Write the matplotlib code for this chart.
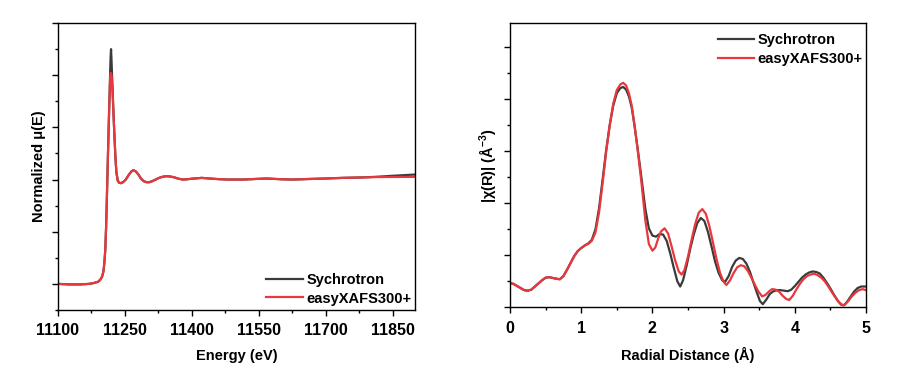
import numpy as np
import matplotlib
matplotlib.use('Agg')
from matplotlib import pyplot as plt
from matplotlib.ticker import MultipleLocator

# XANES, normalized mu(E) vs energy (eV)
energy = [11100, 11125, 11150, 11170, 11180, 11190, 11195, 11199, 11202, 11204,
          11206, 11208, 11210, 11212, 11214, 11216, 11217, 11218, 11219, 11220,
          11221, 11223, 11225, 11227, 11229, 11231, 11234, 11237, 11241, 11246,
          11252, 11258, 11264, 11269, 11274, 11280, 11286, 11292, 11298, 11304,
          11310, 11318, 11326, 11334, 11342, 11350, 11360, 11370, 11380, 11390,
          11400, 11422, 11440, 11460, 11480, 11514, 11540, 11567, 11600, 11626,
          11660, 11700, 11738, 11780, 11813, 11850, 11900]
mu_sync = [0.0, -0.005, -0.005, 0.0, 0.008, 0.02, 0.04, 0.07, 0.12, 0.20,
           0.32, 0.55, 0.88, 1.22, 1.55, 1.85, 2.02, 2.17, 2.25, 2.15,
           2.03, 1.80, 1.58, 1.38, 1.20, 1.07, 0.99, 0.97, 0.965, 0.975,
           1.0, 1.04, 1.075, 1.089, 1.08, 1.05, 1.01, 0.985, 0.975, 0.974,
           0.982, 0.998, 1.015, 1.026, 1.032, 1.03, 1.022, 1.008, 1.0, 1.003,
           1.008, 1.016, 1.01, 1.004, 1.0, 1.0, 1.005, 1.01, 1.003, 1.0,
           1.005, 1.01, 1.016, 1.02, 1.026, 1.036, 1.048]
mu_easy = [0.0, -0.005, -0.005, 0.0, 0.008, 0.02, 0.04, 0.07, 0.12, 0.20,
           0.32, 0.55, 0.88, 1.22, 1.55, 1.85, 1.98, 2.02, 2.02, 2.0,
           1.95, 1.78, 1.58, 1.38, 1.20, 1.07, 0.99, 0.97, 0.965, 0.975,
           1.0, 1.04, 1.075, 1.089, 1.08, 1.05, 1.01, 0.985, 0.975, 0.974,
           0.982, 0.998, 1.015, 1.026, 1.032, 1.03, 1.022, 1.008, 1.0, 1.003,
           1.008, 1.016, 1.01, 1.004, 1.0, 1.0, 1.005, 1.01, 1.003, 1.0,
           1.005, 1.01, 1.016, 1.02, 1.024, 1.025, 1.026]

# EXAFS, |chi(R)| vs radial distance (A)
r_sync = [0.00, 0.05, 0.10, 0.15, 0.20, 0.25, 0.30, 0.35, 0.40, 0.45,
          0.50, 0.55, 0.60, 0.65, 0.70, 0.75, 0.80, 0.85, 0.90, 0.95,
          1.00, 1.05, 1.10, 1.15, 1.20, 1.25, 1.30, 1.35, 1.40, 1.45,
          1.50, 1.55, 1.59, 1.63, 1.67, 1.71, 1.75, 1.80, 1.85, 1.90,
          1.95, 2.00, 2.05, 2.10, 2.15, 2.20, 2.25, 2.30, 2.35, 2.39,
          2.43, 2.48, 2.53, 2.58, 2.63, 2.68, 2.73, 2.78, 2.83, 2.88,
          2.93, 2.98, 3.02, 3.07, 3.12, 3.17, 3.22, 3.27, 3.32, 3.37,
          3.42, 3.47, 3.51, 3.55, 3.60, 3.65, 3.70, 3.75, 3.80, 3.85,
          3.90, 3.95, 4.00, 4.05, 4.10, 4.15, 4.20, 4.25, 4.30, 4.35,
          4.40, 4.45, 4.50, 4.55, 4.60, 4.65, 4.69, 4.73, 4.78, 4.83,
          4.88, 4.93, 5.00]
chi_sync = [0.47, 0.45, 0.41, 0.37, 0.33, 0.32, 0.34, 0.40, 0.46, 0.52,
            0.57, 0.58, 0.565, 0.55, 0.54, 0.60, 0.72, 0.85, 0.98, 1.08,
            1.14, 1.19, 1.23, 1.30, 1.50, 1.90, 2.45, 3.02, 3.50, 3.88,
            4.12, 4.22, 4.24, 4.19, 4.06, 3.84, 3.48, 2.98, 2.45, 1.90,
            1.52, 1.38, 1.36, 1.41, 1.40, 1.28, 1.04, 0.76, 0.50, 0.40,
            0.52, 0.80, 1.12, 1.40, 1.62, 1.72, 1.66, 1.45, 1.17, 0.88,
            0.66, 0.52, 0.49, 0.60, 0.78, 0.90, 0.95, 0.93, 0.84, 0.68,
            0.47, 0.27, 0.12, 0.06, 0.15, 0.26, 0.31, 0.33, 0.33, 0.32,
            0.31, 0.34, 0.41, 0.49, 0.57, 0.63, 0.67, 0.69, 0.68, 0.65,
            0.57, 0.47, 0.36, 0.24, 0.13, 0.05, 0.04, 0.10, 0.20, 0.30,
            0.37, 0.40, 0.40]

r_easy = [0.00, 0.05, 0.10, 0.15, 0.20, 0.25, 0.30, 0.35, 0.40, 0.45,
          0.50, 0.55, 0.60, 0.65, 0.70, 0.75, 0.80, 0.85, 0.90, 0.95,
          1.00, 1.05, 1.10, 1.15, 1.20, 1.25, 1.30, 1.35, 1.40, 1.45,
          1.50, 1.55, 1.59, 1.63, 1.67, 1.71, 1.75, 1.80, 1.85, 1.90,
          1.95, 2.00, 2.04, 2.08, 2.12, 2.17, 2.22, 2.27, 2.32, 2.37,
          2.41, 2.45, 2.50, 2.55, 2.60, 2.65, 2.70, 2.75, 2.80, 2.85,
          2.90, 2.95, 3.00, 3.04, 3.09, 3.14, 3.19, 3.24, 3.29, 3.34,
          3.39, 3.44, 3.49, 3.54, 3.59, 3.64, 3.68, 3.73, 3.78, 3.83,
          3.88, 3.92, 3.97, 4.02, 4.07, 4.12, 4.17, 4.22, 4.27, 4.32,
          4.37, 4.42, 4.47, 4.52, 4.57, 4.62, 4.67, 4.70, 4.75, 4.80,
          4.85, 4.90, 4.95, 5.00]
chi_easy = [0.47, 0.45, 0.41, 0.37, 0.33, 0.32, 0.34, 0.40, 0.46, 0.52,
            0.57, 0.58, 0.565, 0.55, 0.54, 0.60, 0.72, 0.85, 0.98, 1.08,
            1.14, 1.19, 1.22, 1.28, 1.44, 1.82, 2.38, 2.98, 3.50, 3.92,
            4.18, 4.29, 4.32, 4.27, 4.12, 3.88, 3.50, 2.95, 2.35, 1.68,
            1.22, 1.09, 1.15, 1.32, 1.46, 1.52, 1.42, 1.17, 0.90, 0.69,
            0.63, 0.72, 0.98, 1.30, 1.60, 1.82, 1.89, 1.80, 1.56, 1.25,
            0.93, 0.66, 0.49, 0.43, 0.52, 0.66, 0.77, 0.81, 0.79, 0.70,
            0.57, 0.43, 0.30, 0.21, 0.24, 0.31, 0.35, 0.34, 0.30, 0.22,
            0.16, 0.14, 0.22, 0.34, 0.45, 0.54, 0.60, 0.63, 0.645, 0.62,
            0.57, 0.50, 0.40, 0.29, 0.19, 0.10, 0.04, 0.05, 0.12, 0.21,
            0.28, 0.33, 0.35, 0.33]

labels = ['Sychrotron', 'easyXAFS300+']
colors = ['#3a3a3a', '#e8383d']

plt.rcParams['font.family'] = ['Liberation Sans', 'DejaVu Sans']
plt.rcParams['font.weight'] = 'bold'
plt.rcParams['mathtext.default'] = 'regular'


def style_axes(ax):
  """Thin frame, outward ticks on bottom/left only, no y tick labels"""
  for s in ax.spines.values():
    s.set_linewidth(1.0)
  ax.tick_params(which='both', direction='out', top=False, right=False,
                 width=1.0, labelleft=False)
  ax.tick_params(which='major', length=4.5, labelsize=11.5, pad=5)
  ax.tick_params(which='minor', length=2.5)


def main():
  fig = plt.figure(figsize=(9.05, 3.78), dpi=100)

  ax1 = fig.add_axes([0.064, 0.180, 0.3946, 0.759])
  ax1.plot(energy, mu_sync, color=colors[0], lw=1.6, label=labels[0])
  ax1.plot(energy, mu_easy, color=colors[1], lw=1.6, label=labels[1])
  ax1.set_xlim(11100, 11900)
  ax1.set_ylim(-0.25, 2.5)
  ax1.xaxis.set_major_locator(MultipleLocator(150))
  ax1.xaxis.set_minor_locator(MultipleLocator(75))
  ax1.yaxis.set_major_locator(MultipleLocator(0.5))
  ax1.yaxis.set_minor_locator(MultipleLocator(0.25))
  style_axes(ax1)
  ax1.set_xlabel('Energy (eV)', fontsize=10.5, fontweight='bold', labelpad=8)
  ax1.set_ylabel('Normalized μ(E)', fontsize=10.5, fontweight='bold', labelpad=4)
  ax1.legend(loc='lower right', frameon=False, fontsize=10.5, handlelength=2.5,
             handletextpad=0.25, labelspacing=0.3, borderaxespad=0.1,
             bbox_to_anchor=(1.01, -0.01))

  ax2 = fig.add_axes([0.5635, 0.187, 0.3935, 0.752])
  ax2.plot(r_sync, chi_sync, color=colors[0], lw=1.6, label=labels[0])
  ax2.plot(r_easy, chi_easy, color=colors[1], lw=1.6, label=labels[1])
  ax2.set_xlim(0, 5)
  ax2.set_ylim(0, 5.47)
  ax2.xaxis.set_major_locator(MultipleLocator(1))
  ax2.xaxis.set_minor_locator(MultipleLocator(0.5))
  ax2.yaxis.set_major_locator(MultipleLocator(1))
  ax2.yaxis.set_minor_locator(MultipleLocator(0.5))
  style_axes(ax2)
  ax2.set_xlabel('Radial Distance (Å)', fontsize=10.5, fontweight='bold', labelpad=8)
  ax2.set_ylabel('|χ(R)| (Å$^{-3}$)', fontsize=10.5, fontweight='bold', labelpad=4)
  ax2.legend(loc='upper right', frameon=False, fontsize=10.5, handlelength=2.5,
             handletextpad=0.25, labelspacing=0.3, borderaxespad=0.3,
             bbox_to_anchor=(1.02, 1.0))

  fig.savefig('out.png', dpi=100)


if __name__ == "__main__":
  main()
